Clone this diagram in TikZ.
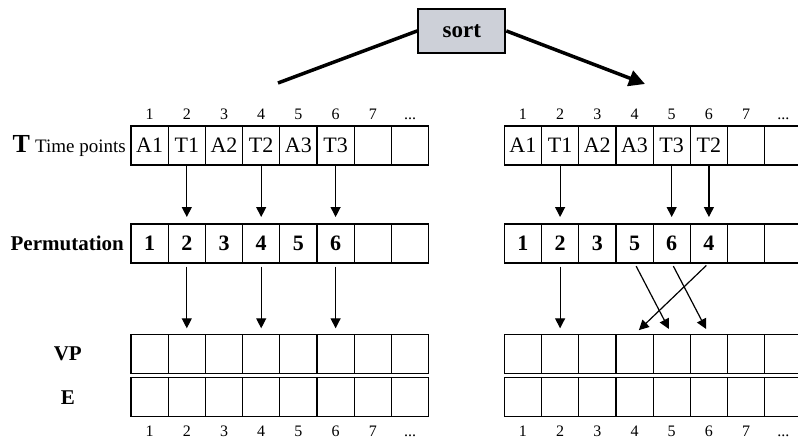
\documentclass[tikz,border=0pt]{standalone}
\usepackage{fontspec}
\setmainfont{Liberation Serif}
\usetikzlibrary{positioning,arrows.meta}
\definecolor{sortgray}{RGB}{205,208,216}
\tikzset{cell/.style={draw,line width=1.2pt,minimum width=37.2pt,
minimum height=39pt,inner sep=0pt,outer sep=0pt,
font=\fontsize{22}{22}\selectfont},
pcell/.style={cell,font=\fontsize{22}{22}\selectfont\bfseries},
idx/.style={anchor=base,inner sep=0pt,font=\fontsize{16}{16}\selectfont},
lbl/.style={inner sep=0pt,font=\fontsize{21}{21}\selectfont\bfseries},
arr/.style={line width=1.2pt,-{Triangle[length=10pt,width=10pt]}},
bigline/.style={line width=3.5pt},
sortbox/.style={draw,line width=2pt,fill=sortgray,minimum width=87pt,
minimum height=43.7pt,font=\fontsize{23}{23}\selectfont\bfseries}}

\begin{document}
\begin{tikzpicture}[x=1pt,y=-1pt]
\useasboundingbox (0,0) rectangle (798,442);

\node[sortbox] (sort) at (461.8,30.9) {sort};
\coordinate (lend) at (278,83);
\coordinate (rend) at (645,84);
\draw[bigline] (sort.west) -- (lend);
\draw[bigline,-{Triangle[length=16pt,width=16pt]}] (sort.east) -- (rend);

% before sorting
\node[cell] (tl1) at (149.6,145.5) {A1};
\foreach \v [count=\i from 2, remember=\i as \j (initially 1)] in {T1,A2,T2,A3,T3,{},{}}
  \node[cell,right=0pt of tl\j] (tl\i) {\v};
\node[pcell] (pl1) at (149.6,243.5) {1};
\foreach \v [count=\i from 2, remember=\i as \j (initially 1)] in {2,3,4,5,6,{},{}}
  \node[pcell,right=0pt of pl\j] (pl\i) {\v};

% after sorting
\node[cell] (tr1) at (522.9,145.5) {A1};
\foreach \v [count=\i from 2, remember=\i as \j (initially 1)] in {T1,A2,A3,T3,T2,{},{}}
  \node[cell,right=0pt of tr\j] (tr\i) {\v};
\node[pcell] (pr1) at (522.9,243.5) {1};
\foreach \v [count=\i from 2, remember=\i as \j (initially 1)] in {2,3,5,6,4,{},{}}
  \node[pcell,right=0pt of pr\j] (pr\i) {\v};

% VP and E rows, index numbers
\foreach \s/\ox in {l/149.6,r/522.9} {
  \node[cell] (v\s1) at (\ox,353.8) {};
  \node[cell] (e\s1) at (\ox,397.2) {};
  \foreach \i [remember=\i as \j (initially 1)] in {2,...,8} {
    \node[cell,right=0pt of v\s\j] (v\s\i) {};
    \node[cell,right=0pt of e\s\j] (e\s\i) {};
  }
  \foreach \i in {1,...,7} {
    \node[idx] at (t\s\i |- 0,119.5) {\i};
    \node[idx] at (e\s\i |- 0,436.5) {\i};
  }
  \node[idx] at (t\s8 |- 0,119.5) {...};
  \node[idx] at (e\s8 |- 0,436.5) {...};
}

\node[lbl,anchor=base east] (tlbl) at ([xshift=-5pt]tl1.base west)
  {{\fontsize{26}{26}\selectfont T} {\mdseries\fontsize{19}{19}\selectfont Time points}};
\node[lbl,anchor=base east] (plbl) at ([xshift=-7pt]pl1.base west) {Permutation};
\node[lbl,left=49pt of vl1] (vlbl) {VP};
\node[lbl,left=56pt of el1] (elbl) {E};

\foreach \i in {2,4,6} {
  \draw[arr,shorten >=7pt] (tl\i.south) -- (pl\i.north);
  \draw[arr,shorten <=3.5pt,shorten >=6pt] (pl\i.south) -- (vl\i.north);
}
\foreach \i in {2,5,6}
  \draw[arr,shorten >=7pt] (tr\i.south) -- (pr\i.north);
\draw[arr,shorten <=3.5pt,shorten >=6pt] (pr2.south) -- (vr2.north);
\foreach \a/\b in {4/5,5/6,6/4}
  \draw[arr,shorten <=3.5pt,shorten >=6pt] (pr\a.south) -- (vr\b.north);
\end{tikzpicture}
\end{document}
